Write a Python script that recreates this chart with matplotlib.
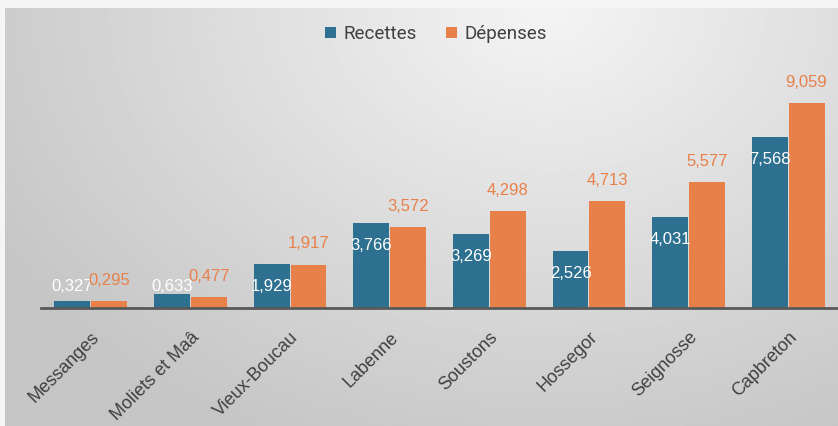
import matplotlib.pyplot as plt
import numpy as np

communes = ['Messanges', 'Moliets et Maâ', 'Vieux-Boucau', 'Labenne',
            'Soustons', 'Hossegor', 'Seignosse', 'Capbreton']
recettes = [0.327, 0.633, 1.929, 3.766, 3.269, 2.526, 4.031, 7.568]
depenses = [0.295, 0.477, 1.917, 3.572, 4.298, 4.713, 5.577, 9.059]

BLUE = '#2E7090'
ORANGE = '#E8804A'
TXT = '#404040'


def fr(v):
    # decimal comma
    return f'{v:.3f}'.replace('.', ',')


W, H = 838, 426
fig = plt.figure(figsize=(W / 100, H / 100), dpi=100)
fig.patch.set_facecolor('#f5f5f5')

# grey radial-ish background panel
bg = fig.add_axes([5 / W, 0, (W - 5) / W, (H - 8) / H])
bg.set_axis_off()
gx, gy = np.meshgrid(np.linspace(0, W - 5, 400), np.linspace(0, H - 8, 200))
d = np.sqrt(((gx - 0.65 * (W - 5)) / 560) ** 2 + (gy / 420) ** 2)
shade = np.clip(0.957 - 0.16 * d, 0.775, 1)
bg.imshow(shade, cmap='gray', vmin=0, vmax=1, aspect='auto',
          extent=[0, 1, 0, 1], origin='upper', interpolation='bilinear')
bg.set_xlim(0, 1)
bg.set_ylim(0, 1)

ax = fig.add_axes([41 / W, 118 / H, (W - 41) / W, 226 / H])
ax.patch.set_alpha(0)
x = np.arange(len(communes))
w = 0.36
b1 = ax.bar(x - 0.185, recettes, w, color=BLUE, label='Recettes', zorder=2)
b2 = ax.bar(x + 0.185, depenses, w, color=ORANGE, label='Dépenses', zorder=2)

ax.set_xlim(-0.5, 7.5)
ax.set_ylim(0, 10)
for s in ['top', 'right', 'left']:
    ax.spines[s].set_visible(False)
ax.spines['bottom'].set_color('#595959')
ax.spines['bottom'].set_linewidth(2)
ax.spines['bottom'].set_zorder(3)
ax.set_yticks([])
ax.set_xticks(x)
ax.set_xticklabels(communes, rotation=45, ha='right', rotation_mode='anchor',
                   fontsize=13, family='Liberation Sans', color=TXT)
ax.tick_params(axis='x', length=0, pad=15)

for xi, v in zip(x, recettes):
    ax.annotate(fr(v), (xi - 0.185, max(v, 1.92)), xytext=(0, -16),
                textcoords='offset points', ha='center', va='center',
                color='white', fontsize=12, family='Liberation Sans', zorder=4)
for xi, v in zip(x, depenses):
    ax.annotate(fr(v), (xi + 0.185, v), xytext=(0, 15),
                textcoords='offset points', ha='center', va='center',
                color=ORANGE, fontsize=12, family='Liberation Sans', zorder=4)

fig.legend(handles=[b1, b2], loc='center', bbox_to_anchor=(436 / W, 1 - 34 / H),
           ncol=2, frameon=False, handlelength=0.55, handleheight=0.55,
           handletextpad=0.4, columnspacing=1.6,
           prop={'family': 'Roboto', 'size': 13.5}, labelcolor=TXT)

fig.savefig('out.png', dpi=100)
